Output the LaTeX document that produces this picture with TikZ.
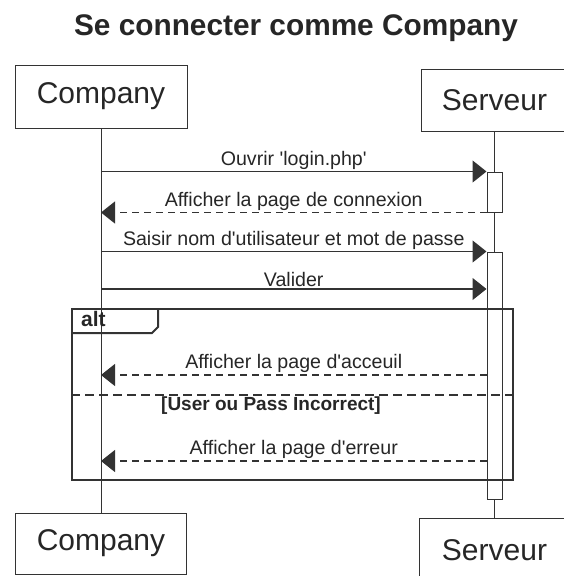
\documentclass[tikz,border=0pt]{standalone}
\usepackage{fontspec}
\setmainfont{Liberation Sans}
\usetikzlibrary{arrows.meta,calc}
\newcommand{\q}{\textquotesingle}

\begin{document}
\begin{tikzpicture}[
  x=1pt, y=-1pt,
  title/.style={font=\bfseries\fontsize{29.8}{35}\selectfont, text=black!85},
  part/.style={draw=black!80, line width=1pt, rectangle, align=center, font=\fontsize{30}{36}\selectfont, text=black!85},
  actbar/.style={draw=black!80, line width=1pt, fill=white, rectangle, minimum width=15pt, inner sep=0pt},
  life/.style={draw=black!80, line width=1pt},
  msg/.style={draw=black!80, line width=1.2pt, -{Triangle[length=14pt, width=22pt]}},
  reply/.style={msg, dash pattern=on 7pt off 5pt},
  lbl/.style={font=\fontsize{19.6}{23}\selectfont, text=black!85, inner sep=1.5pt},
  altframe/.style={draw=black!80, line width=2pt, rectangle, inner sep=0pt},
  guardline/.style={draw=black!80, line width=2pt, dash pattern=on 9pt off 5pt},
  altlbl/.style={font=\bfseries\fontsize{21}{25}\selectfont, text=black!85, inner sep=0pt},
  cond/.style={font=\bfseries\fontsize{19}{23}\selectfont, text=black!85, inner sep=0pt},
]
  \useasboundingbox (0,0) rectangle (563,576);

  \node[title] (ttl) at (296,28.5) {Se connecter comme Company};

  % participants, top and bottom
  \node[part, minimum width=172pt, minimum height=63pt] (compTop) at (101,96.5) {Company};
  \node[part, minimum width=146pt, minimum height=62pt] (servTop) at (494.5,100) {Serveur};
  \node[part, minimum width=171pt, minimum height=61pt] (compBot) at (101,543.5) {Company};
  \node[part, minimum width=150pt, minimum height=64pt] (servBot) at (494.5,550) {Serveur};

  % lifelines
  \draw[life] (compTop) -- (compBot);
  \draw[life] (servTop) -- (servBot);

  % activation bars
  \node[actbar, minimum height=40pt] (act1) at (494.5,192) {};
  \node[actbar, minimum height=247pt] (act2) at (494.5,375.5) {};

  % messages
  \draw[msg] (compTop |- act1.north west) -- (act1.north west)
    node[lbl, midway, above] {Ouvrir \q login.php\q};
  \draw[reply] (act1.south west) -- (compTop |- act1.south west)
    node[lbl, midway, above] {Afficher la page de connexion};
  \draw[msg] (compTop |- act2.north west) -- (act2.north west)
    node[lbl, midway, above] {Saisir nom d\q utilisateur et mot de passe};

  \coordinate (val) at (101,289);
  \draw[msg] (val) -- (act2.west |- val)
    node[lbl, midway, above] {Valider};

  % alt fragment
  \node[altframe, minimum width=441pt, minimum height=171pt] (alt) at (292.5,394.5) {};
  \draw[altframe] ([yshift=-25pt]alt.north west) -- ++(81,0) -- ++(6,-6) -- ++(0,-19);
  \node[altlbl, anchor=base west] (altname) at ([xshift=10pt, yshift=-18pt]alt.north west) {alt};
  \draw[guardline] (alt.west) -- (alt.east);
  \node[cond, anchor=base west] (guard) at ([xshift=90pt, yshift=-16pt]alt.west) {[User ou Pass Incorrect]};

  \coordinate (acc) at (101,375);
  \draw[reply] (act2.west |- acc) -- (acc)
    node[lbl, midway, above] {Afficher la page d\q acceuil};
  \coordinate (err) at (101,461);
  \draw[reply] (act2.west |- err) -- (err)
    node[lbl, midway, above] {Afficher la page d\q erreur};
\end{tikzpicture}
\end{document}
